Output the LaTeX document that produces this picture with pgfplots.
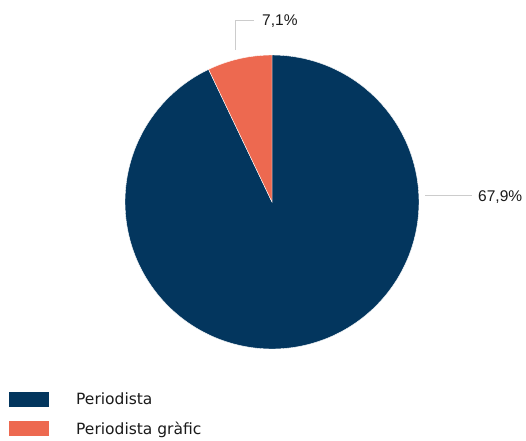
\documentclass[border=0pt]{standalone}
\usepackage{fontspec}
\setmainfont{DejaVu Sans}
\newfontfamily\labelfont{Liberation Sans}
\usepackage{pgfplots}
\usepackage{pgfplotstable}
\pgfplotsset{compat=1.18}

\definecolor{pieA}{HTML}{03365E}
\definecolor{pieB}{HTML}{ED6950}
\definecolor{leader}{HTML}{CCCCCC}
\definecolor{ink}{HTML}{1A1A1A}

% share of respondents by role (per cent)
\pgfplotstableread[col sep=comma]{
role,share
Periodista,67.9
Periodista gràfic,7.1
}\roles

\begin{document}
\begin{tikzpicture}
\useasboundingbox (0,0) rectangle (526pt,440pt);
\pgfplotstablegetelem{0}{share}\of\roles \let\shareA\pgfplotsretval
\pgfplotstablegetelem{1}{share}\of\roles \let\shareB\pgfplotsretval
% the small slice starts at twelve o'clock and runs anticlockwise
\pgfmathsetmacro\split{90+3.6*\shareB}
\begin{axis}[
  at={(125pt,91pt)}, anchor=south west,
  scale only axis, width=294pt, height=294pt,
  xmin=-1, xmax=1, ymin=-1, ymax=1,
  hide axis, clip=false,
  legend image code/.code={\fill[#1, draw=none] (0pt,-7.5pt) rectangle (40pt,7.5pt);},
  legend style={
    at={(axis description cs:-0.3946,-0.1463)}, anchor=north west,
    draw=none, fill=none, inner sep=0pt,
    font=\fontsize{15.5}{18}\selectfont, text=ink,
    row sep=14pt,
    nodes={inner sep=0pt},
    /tikz/every odd column/.append style={column sep=27pt},
  },
  legend cell align=left,
]
\addplot[fill=pieA, draw=white, line width=0.4pt,
  domain=\split:450, samples=160, variable=\t]
  ({cos(\t)},{sin(\t)}) -- (0,0) -- cycle;
\addlegendentry{Periodista}
\addplot[fill=pieB, draw=white, line width=0.4pt,
  domain=90:\split, samples=24, variable=\t]
  ({cos(\t)},{sin(\t)}) -- (0,0) -- cycle;
\addlegendentry{Periodista gràfic}
\end{axis}

% value labels with their leader lines
\draw[leader, line width=1pt] (425pt,245pt) -- (472pt,245pt);
\node[anchor=base west, inner sep=0pt, text=ink, font=\labelfont\fontsize{15.5}{18}\selectfont]
  at (478pt,238.3pt)
  {\pgfmathprintnumber[fixed, fixed zerofill, precision=1, use comma, assume math mode=true]{\shareA}\%};
\draw[leader, line width=1pt] (235pt,390pt) -- (235pt,419.3pt) -- (254pt,419.3pt);
\node[anchor=base west, inner sep=0pt, text=ink, font=\labelfont\fontsize{15.5}{18}\selectfont]
  at (262pt,414pt)
  {\pgfmathprintnumber[fixed, fixed zerofill, precision=1, use comma, assume math mode=true]{\shareB}\%};
\end{tikzpicture}
\end{document}
